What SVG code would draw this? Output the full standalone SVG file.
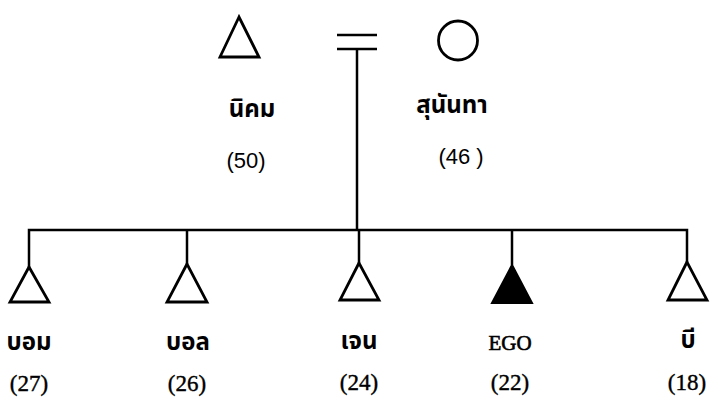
<svg xmlns="http://www.w3.org/2000/svg" width="719" height="404" viewBox="0 0 719 404">
<style>
.sym{fill:none;stroke:#000;stroke-width:2.8;stroke-linejoin:miter}
.ego{fill:#000;stroke:#000;stroke-width:2}
.ln{stroke:#000;stroke-width:2.5;fill:none}
.th{font-family:'Noto Sans Thai','Noto Sans','DejaVu Sans',sans-serif;font-size:24px;font-weight:bold;fill:#000;text-anchor:middle}
.ns{font-family:'Liberation Sans',sans-serif;font-size:22px;fill:#000;text-anchor:middle}
.nr{font-family:'Liberation Serif',serif;font-size:23px;fill:#000;stroke:#000;stroke-width:0.4;text-anchor:middle}
.eg{font-family:'Liberation Serif',serif;font-size:21px;fill:#000;stroke:#000;stroke-width:0.6;text-anchor:middle}
</style>
<rect width="719" height="404" fill="#fff"/>
<g id="connectors">
<line class="ln" x1="337" y1="35" x2="377" y2="35"/>
<line class="ln" x1="337" y1="49" x2="377" y2="49"/>
<line class="ln" x1="357" y1="49" x2="357" y2="230"/>
<polyline class="ln" points="29,267 29,230 687,230 687,262"/>
<line class="ln" x1="187" y1="230" x2="187" y2="264"/>
<line class="ln" x1="359" y1="230" x2="359" y2="263"/>
<line class="ln" x1="512" y1="230" x2="512" y2="265"/>
</g>
<g id="nikhom">
<polygon class="sym" points="239,17 220,57 259,57"/>
<text class="th" x="252" y="117">นิคม</text>
<text class="ns" x="246" y="168">(50)</text>
</g>
<g id="sunantha">
<circle class="sym" cx="458" cy="40.5" r="19.5"/>
<text class="th" x="452" y="113">สุนันทา</text>
<text class="ns" x="461" y="164">(46 )</text>
</g>
<g id="bom">
<polygon class="sym" points="29,267 10,302 49,302"/>
<text class="th" x="29" y="350">บอม</text>
<text class="nr" x="29" y="391">(27)</text>
</g>
<g id="bon">
<polygon class="sym" points="187,264 167,302 207,302"/>
<text class="th" x="188" y="350">บอล</text>
<text class="nr" x="187" y="391">(26)</text>
</g>
<g id="jen">
<polygon class="sym" points="359,263 340,300 379,300"/>
<text class="th" x="359" y="349">เจน</text>
<text class="nr" x="359" y="390">(24)</text>
</g>
<g id="ego">
<polygon class="ego" points="512,265 492,303 532,303"/>
<text class="eg" x="510" y="350">EGO</text>
<text class="nr" x="510" y="390">(22)</text>
</g>
<g id="bi">
<polygon class="sym" points="687,262 668,300 707,300"/>
<text class="th" x="688" y="348">บี</text>
<text class="nr" x="687" y="390">(18)</text>
</g>
</svg>
